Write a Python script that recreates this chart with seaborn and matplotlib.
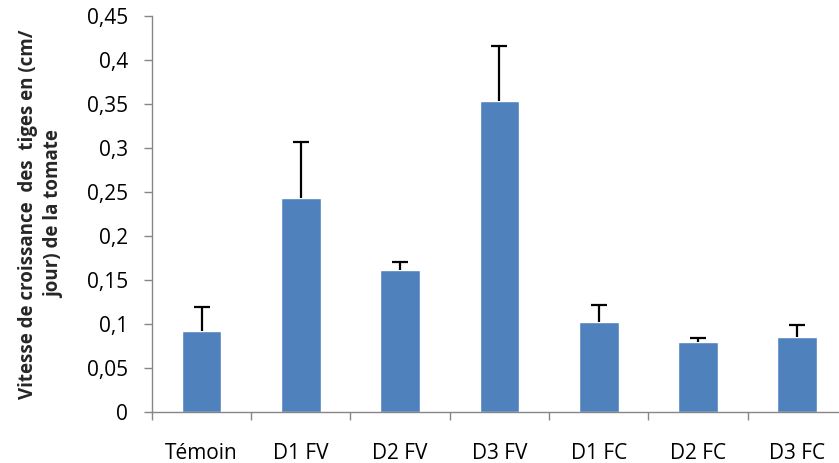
import numpy as np
import pandas as pd
import seaborn as sns
import matplotlib.pyplot as plt

# Values
traitements = ['Témoin', 'D1 FV', 'D2 FV', 'D3 FV', 'D1 FC', 'D2 FC', 'D3 FC']
vitesse = [0.092, 0.243, 0.161, 0.353, 0.102, 0.0795, 0.085]
erreur = [0.027, 0.064, 0.009, 0.063, 0.020, 0.0045, 0.014]
yticks = [0, 0.05, 0.1, 0.15, 0.2, 0.25, 0.3, 0.35, 0.4, 0.45]

df = pd.DataFrame({'traitement': traitements, 'vitesse': vitesse})

sns.set_style('white')
plt.rcParams['font.family'] = ['Open Sans', 'DejaVu Sans']

fig = plt.figure(figsize=(8.39, 4.63), dpi=100)
ax = fig.add_axes([0.181, 0.110, 0.8285, 0.856])

sns.barplot(data=df, x='traitement', y='vitesse', color='#4F81BD',
            saturation=1, width=0.4, errorbar=None, ax=ax)

# upper error bars only
x = np.arange(len(traitements))
_, caps, _ = ax.errorbar(x, vitesse, yerr=[np.zeros(len(erreur)), erreur], fmt='none',
                         ecolor='black', elinewidth=1.6, capsize=6, capthick=1.6)
for cap in caps:
    if np.allclose(cap.get_ydata(), vitesse):
        cap.set_visible(False)

ax.set_ylim(0, 0.45)
ax.set_xlim(-0.5, len(traitements) - 0.5)
ax.set_yticks(yticks)
ax.set_yticklabels([('%g' % v).replace('.', ',') for v in yticks])

# category labels without marks, tick marks at category boundaries
ax.tick_params(axis='x', which='major', length=0, pad=22, labelsize=15, labelcolor='black')
ax.set_xticks(np.arange(-0.5, len(traitements)), minor=True)
ax.tick_params(axis='x', which='minor', length=5.8, width=1, color='#868686', direction='out', bottom=True)
ax.tick_params(axis='y', length=5.8, width=1, color='#868686', direction='out', left=True,
               labelsize=15, labelcolor='black', pad=11.5)

for side in ['top', 'right']:
    ax.spines[side].set_visible(False)
for side in ['left', 'bottom']:
    ax.spines[side].set_color('#868686')
    ax.spines[side].set_linewidth(1)

ax.set_xlabel('')
ax.set_ylabel('Vitesse de croissance  des  tiges en (cm/\njour) de la tomate',
              fontsize=13.5, fontweight='bold', labelpad=16, linespacing=1.45)

fig.savefig('out.png', dpi=100)
